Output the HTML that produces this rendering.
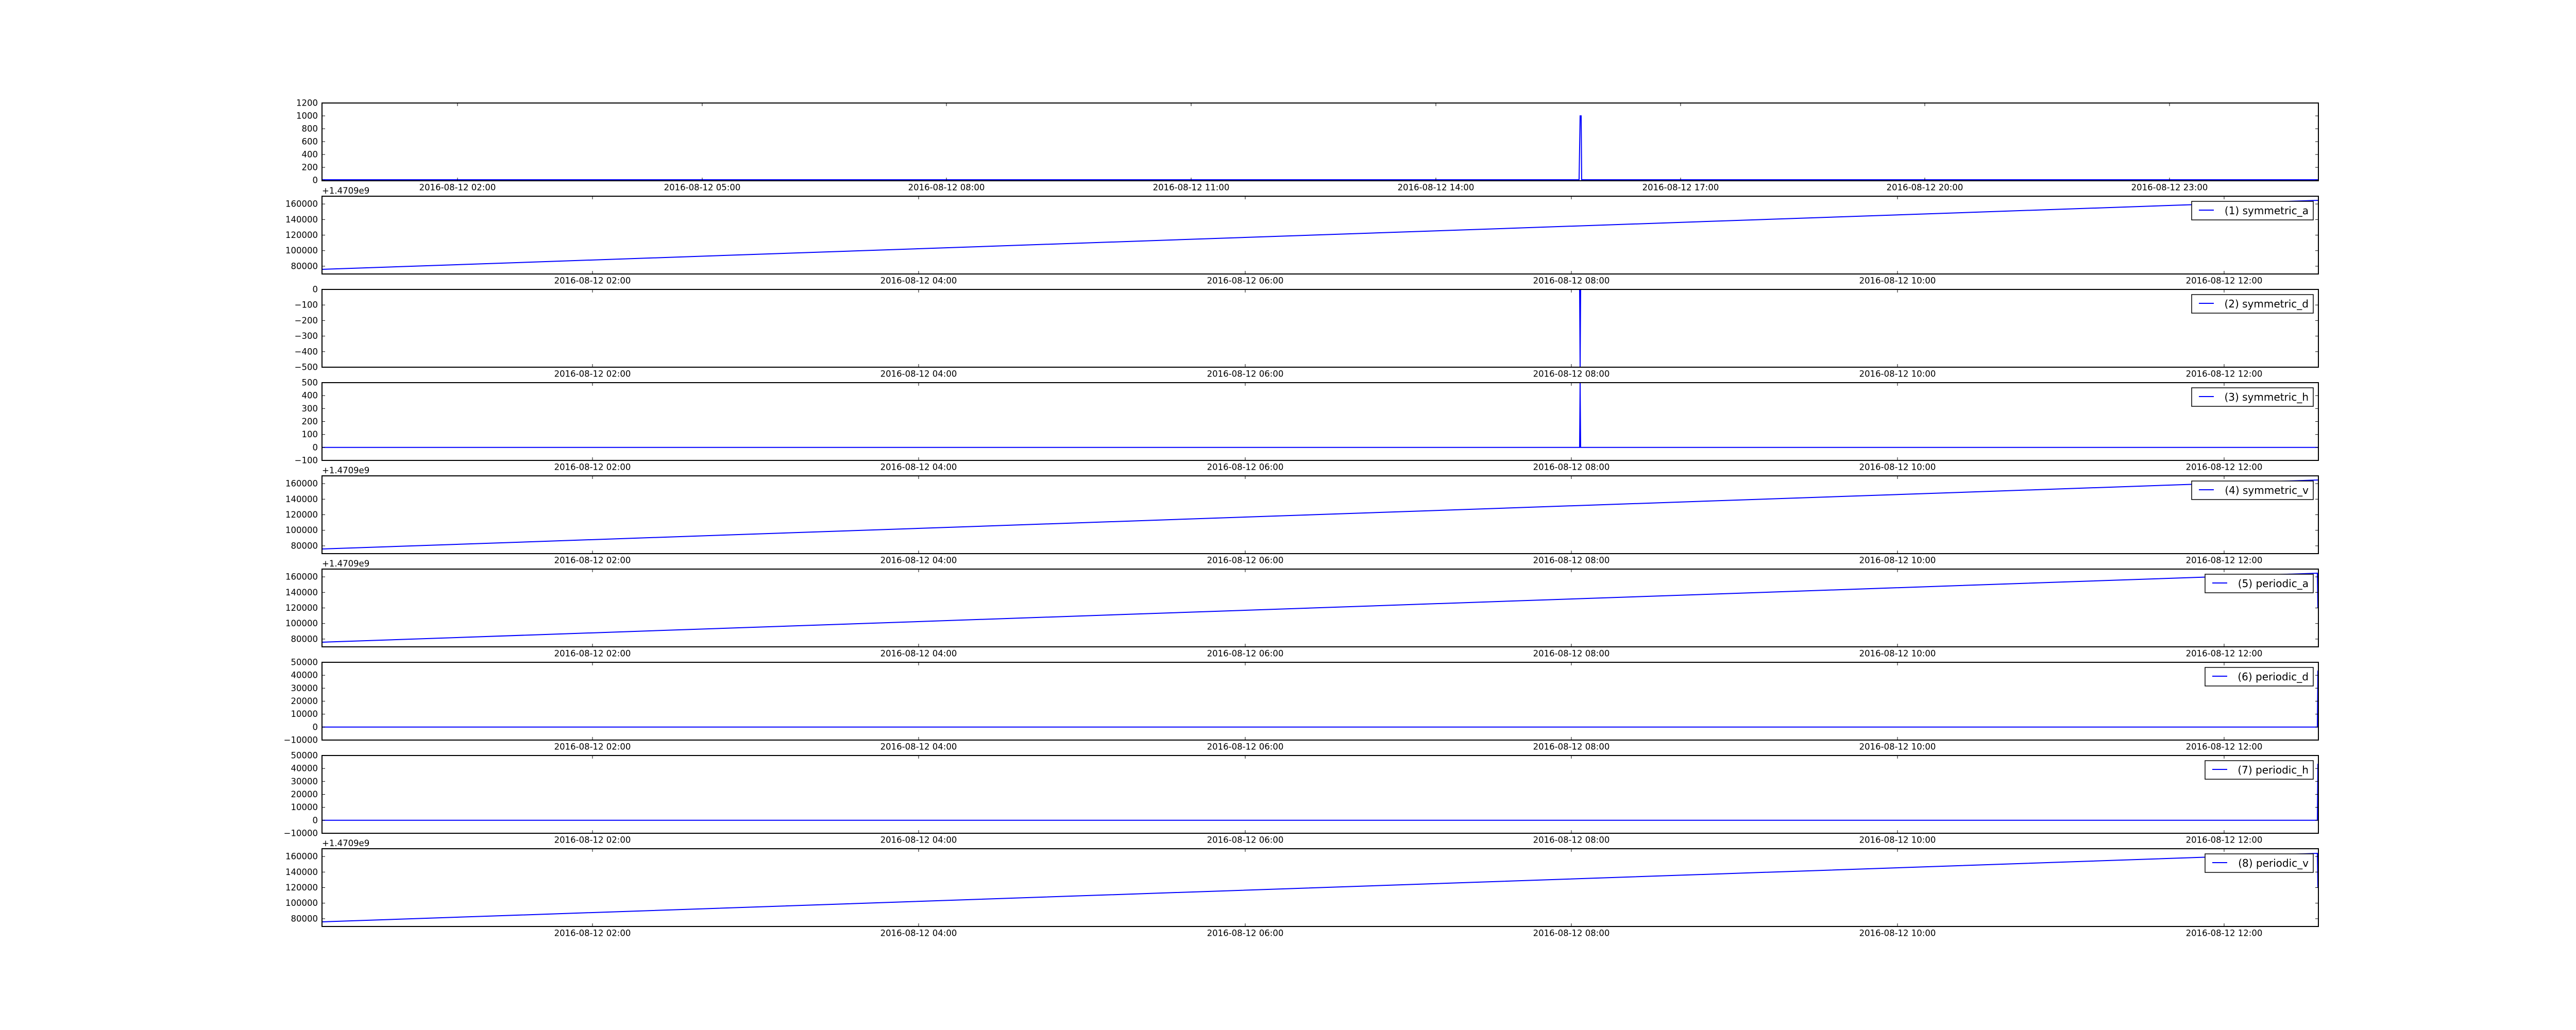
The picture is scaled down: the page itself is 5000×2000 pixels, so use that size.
<!DOCTYPE html>
<html><head><meta charset="utf-8"><style>
html,body{margin:0;padding:0;background:#fff;}
svg{display:block;}
text{font-family:"DejaVu Sans","Liberation Sans",sans-serif;fill:#000;}
.yl{font-size:16.5px;text-anchor:end;dominant-baseline:central;}
.xl{font-size:16.5px;text-anchor:middle;dominant-baseline:central;}
.lg{font-size:20px;text-anchor:end;dominant-baseline:central;}
.off{font-size:16.5px;}
.ax{fill:none;stroke:#000;stroke-width:2;}
.tk{stroke:#000;stroke-width:1;}
.ln{fill:none;stroke:#0000ff;stroke-width:2;}
.lb{fill:#fff;stroke:#000;stroke-width:1.5;}
</style></head><body>
<svg width="5000" height="2000" viewBox="0 0 5000 2000" xmlns="http://www.w3.org/2000/svg">
<rect width="5000" height="2000" fill="#fff"/>

<!-- Panel 1 -->
<g transform="translate(0,200)">
<polyline class="ln" points="625,149 3065,149 3067,25 3069,25 3070,149 4500,149"/>
<rect class="ax" x="625" y="0" width="3875" height="151"/>
<g class="tk">
<line x1="625" y1="150" x2="631" y2="150"/><line x1="625" y1="125" x2="631" y2="125"/><line x1="625" y1="100" x2="631" y2="100"/><line x1="625" y1="75" x2="631" y2="75"/><line x1="625" y1="50" x2="631" y2="50"/><line x1="625" y1="25" x2="631" y2="25"/>
<line x1="4494" y1="150" x2="4500" y2="150"/><line x1="4494" y1="125" x2="4500" y2="125"/><line x1="4494" y1="100" x2="4500" y2="100"/><line x1="4494" y1="75" x2="4500" y2="75"/><line x1="4494" y1="50" x2="4500" y2="50"/><line x1="4494" y1="25" x2="4500" y2="25"/>
<line x1="888" y1="0" x2="888" y2="6"/><line x1="1363" y1="0" x2="1363" y2="6"/><line x1="1837" y1="0" x2="1837" y2="6"/><line x1="2312" y1="0" x2="2312" y2="6"/><line x1="2787" y1="0" x2="2787" y2="6"/><line x1="3262" y1="0" x2="3262" y2="6"/><line x1="3736" y1="0" x2="3736" y2="6"/><line x1="4211" y1="0" x2="4211" y2="6"/>
<line x1="888" y1="151" x2="888" y2="145"/><line x1="1363" y1="151" x2="1363" y2="145"/><line x1="1837" y1="151" x2="1837" y2="145"/><line x1="2312" y1="151" x2="2312" y2="145"/><line x1="2787" y1="151" x2="2787" y2="145"/><line x1="3262" y1="151" x2="3262" y2="145"/><line x1="3736" y1="151" x2="3736" y2="145"/><line x1="4211" y1="151" x2="4211" y2="145"/>
</g>
<text class="yl" x="617" y="150">0</text><text class="yl" x="617" y="125">200</text><text class="yl" x="617" y="100">400</text><text class="yl" x="617" y="75">600</text><text class="yl" x="617" y="50">800</text><text class="yl" x="617" y="25">1000</text><text class="yl" x="617" y="0">1200</text>
<text class="xl" x="888" y="164">2016-08-12 02:00</text><text class="xl" x="1363" y="164">2016-08-12 05:00</text><text class="xl" x="1837" y="164">2016-08-12 08:00</text><text class="xl" x="2312" y="164">2016-08-12 11:00</text><text class="xl" x="2787" y="164">2016-08-12 14:00</text><text class="xl" x="3262" y="164">2016-08-12 17:00</text><text class="xl" x="3736" y="164">2016-08-12 20:00</text><text class="xl" x="4211" y="164">2016-08-12 23:00</text>
</g>

<defs>
<g id="xt">
<line class="tk" x1="1150" y1="0" x2="1150" y2="6"/><line class="tk" x1="1783" y1="0" x2="1783" y2="6"/><line class="tk" x1="2417" y1="0" x2="2417" y2="6"/><line class="tk" x1="3050" y1="0" x2="3050" y2="6"/><line class="tk" x1="3683" y1="0" x2="3683" y2="6"/><line class="tk" x1="4317" y1="0" x2="4317" y2="6"/>
<line class="tk" x1="1150" y1="151" x2="1150" y2="145"/><line class="tk" x1="1783" y1="151" x2="1783" y2="145"/><line class="tk" x1="2417" y1="151" x2="2417" y2="145"/><line class="tk" x1="3050" y1="151" x2="3050" y2="145"/><line class="tk" x1="3683" y1="151" x2="3683" y2="145"/><line class="tk" x1="4317" y1="151" x2="4317" y2="145"/>
</g>
<g id="yt5">
<line class="tk" x1="625" y1="15.1" x2="631" y2="15.1"/><line class="tk" x1="625" y1="45.3" x2="631" y2="45.3"/><line class="tk" x1="625" y1="75.5" x2="631" y2="75.5"/><line class="tk" x1="625" y1="105.7" x2="631" y2="105.7"/><line class="tk" x1="625" y1="135.9" x2="631" y2="135.9"/>
<line class="tk" x1="4494" y1="15.1" x2="4500" y2="15.1"/><line class="tk" x1="4494" y1="45.3" x2="4500" y2="45.3"/><line class="tk" x1="4494" y1="75.5" x2="4500" y2="75.5"/><line class="tk" x1="4494" y1="105.7" x2="4500" y2="105.7"/><line class="tk" x1="4494" y1="135.9" x2="4500" y2="135.9"/>
</g>
<g id="yt6">
<line class="tk" x1="625" y1="25.2" x2="631" y2="25.2"/><line class="tk" x1="625" y1="50.3" x2="631" y2="50.3"/><line class="tk" x1="625" y1="75.5" x2="631" y2="75.5"/><line class="tk" x1="625" y1="100.7" x2="631" y2="100.7"/><line class="tk" x1="625" y1="125.8" x2="631" y2="125.8"/>
<line class="tk" x1="4494" y1="25.2" x2="4500" y2="25.2"/><line class="tk" x1="4494" y1="50.3" x2="4500" y2="50.3"/><line class="tk" x1="4494" y1="75.5" x2="4500" y2="75.5"/><line class="tk" x1="4494" y1="100.7" x2="4500" y2="100.7"/><line class="tk" x1="4494" y1="125.8" x2="4500" y2="125.8"/>
</g>
<g id="yt3">
<line class="tk" x1="625" y1="30.2" x2="631" y2="30.2"/><line class="tk" x1="625" y1="60.4" x2="631" y2="60.4"/><line class="tk" x1="625" y1="90.6" x2="631" y2="90.6"/><line class="tk" x1="625" y1="120.8" x2="631" y2="120.8"/>
<line class="tk" x1="4494" y1="30.2" x2="4500" y2="30.2"/><line class="tk" x1="4494" y1="60.4" x2="4500" y2="60.4"/><line class="tk" x1="4494" y1="90.6" x2="4500" y2="90.6"/><line class="tk" x1="4494" y1="120.8" x2="4500" y2="120.8"/>
</g>
</defs>

<g transform="translate(0,381)">
<text class="off" x="625" y="-5">+1.4709e9</text>
<polyline class="ln" points="625,142 4500,8"/>
<use href="#yt5"/><use href="#xt"/>
<rect class="ax" x="625" y="0" width="3875" height="151"/>
<text class="yl" x="617" y="15.1">160000</text><text class="yl" x="617" y="45.3">140000</text><text class="yl" x="617" y="75.5">120000</text><text class="yl" x="617" y="105.7">100000</text><text class="yl" x="617" y="135.9">80000</text>
<rect class="lb" x="4254" y="10" width="236" height="36"/><line class="ln" x1="4268" y1="27" x2="4297" y2="27"/><text class="lg" x="4481" y="28">(1) symmetric_a</text>
<text class="xl" x="1150" y="164">2016-08-12 02:00</text><text class="xl" x="1783" y="164">2016-08-12 04:00</text><text class="xl" x="2417" y="164">2016-08-12 06:00</text><text class="xl" x="3050" y="164">2016-08-12 08:00</text><text class="xl" x="3683" y="164">2016-08-12 10:00</text><text class="xl" x="4317" y="164">2016-08-12 12:00</text>
</g>

<g transform="translate(0,562)">
<polyline class="ln" points="625,0 3066,0 3067,151 3068,0 4500,0"/>
<use href="#yt3"/><use href="#xt"/>
<rect class="ax" x="625" y="0" width="3875" height="151"/>
<text class="yl" x="617" y="0">0</text><text class="yl" x="617" y="30.2">−100</text><text class="yl" x="617" y="60.4">−200</text><text class="yl" x="617" y="90.6">−300</text><text class="yl" x="617" y="120.8">−400</text><text class="yl" x="617" y="151">−500</text>
<rect class="lb" x="4254" y="10" width="236" height="36"/><line class="ln" x1="4268" y1="27" x2="4297" y2="27"/><text class="lg" x="4481" y="28">(2) symmetric_d</text>
<text class="xl" x="1150" y="164">2016-08-12 02:00</text><text class="xl" x="1783" y="164">2016-08-12 04:00</text><text class="xl" x="2417" y="164">2016-08-12 06:00</text><text class="xl" x="3050" y="164">2016-08-12 08:00</text><text class="xl" x="3683" y="164">2016-08-12 10:00</text><text class="xl" x="4317" y="164">2016-08-12 12:00</text>
</g>

<g transform="translate(0,743)">
<polyline class="ln" points="625,125.8 3066,125.8 3067,0 3068,125.8 4500,125.8"/>
<use href="#yt6"/><use href="#xt"/>
<rect class="ax" x="625" y="0" width="3875" height="151"/>
<text class="yl" x="617" y="0">500</text><text class="yl" x="617" y="25.2">400</text><text class="yl" x="617" y="50.3">300</text><text class="yl" x="617" y="75.5">200</text><text class="yl" x="617" y="100.7">100</text><text class="yl" x="617" y="125.8">0</text><text class="yl" x="617" y="151">−100</text>
<rect class="lb" x="4254" y="10" width="236" height="36"/><line class="ln" x1="4268" y1="27" x2="4297" y2="27"/><text class="lg" x="4481" y="28">(3) symmetric_h</text>
<text class="xl" x="1150" y="164">2016-08-12 02:00</text><text class="xl" x="1783" y="164">2016-08-12 04:00</text><text class="xl" x="2417" y="164">2016-08-12 06:00</text><text class="xl" x="3050" y="164">2016-08-12 08:00</text><text class="xl" x="3683" y="164">2016-08-12 10:00</text><text class="xl" x="4317" y="164">2016-08-12 12:00</text>
</g>

<g transform="translate(0,924)">
<text class="off" x="625" y="-5">+1.4709e9</text>
<polyline class="ln" points="625,142 4500,8"/>
<use href="#yt5"/><use href="#xt"/>
<rect class="ax" x="625" y="0" width="3875" height="151"/>
<text class="yl" x="617" y="15.1">160000</text><text class="yl" x="617" y="45.3">140000</text><text class="yl" x="617" y="75.5">120000</text><text class="yl" x="617" y="105.7">100000</text><text class="yl" x="617" y="135.9">80000</text>
<rect class="lb" x="4254" y="10" width="236" height="36"/><line class="ln" x1="4268" y1="27" x2="4297" y2="27"/><text class="lg" x="4481" y="28">(4) symmetric_v</text>
<text class="xl" x="1150" y="164">2016-08-12 02:00</text><text class="xl" x="1783" y="164">2016-08-12 04:00</text><text class="xl" x="2417" y="164">2016-08-12 06:00</text><text class="xl" x="3050" y="164">2016-08-12 08:00</text><text class="xl" x="3683" y="164">2016-08-12 10:00</text><text class="xl" x="4317" y="164">2016-08-12 12:00</text>
</g>

<g transform="translate(0,1105)">
<text class="off" x="625" y="-5">+1.4709e9</text>
<polyline class="ln" points="625,142 4498,8 4499,75"/>
<use href="#yt5"/><use href="#xt"/>
<rect class="ax" x="625" y="0" width="3875" height="151"/>
<text class="yl" x="617" y="15.1">160000</text><text class="yl" x="617" y="45.3">140000</text><text class="yl" x="617" y="75.5">120000</text><text class="yl" x="617" y="105.7">100000</text><text class="yl" x="617" y="135.9">80000</text>
<rect class="lb" x="4280" y="10" width="210" height="36"/><line class="ln" x1="4294" y1="27" x2="4323" y2="27"/><text class="lg" x="4481" y="28">(5) periodic_a</text>
<text class="xl" x="1150" y="164">2016-08-12 02:00</text><text class="xl" x="1783" y="164">2016-08-12 04:00</text><text class="xl" x="2417" y="164">2016-08-12 06:00</text><text class="xl" x="3050" y="164">2016-08-12 08:00</text><text class="xl" x="3683" y="164">2016-08-12 10:00</text><text class="xl" x="4317" y="164">2016-08-12 12:00</text>
</g>

<g transform="translate(0,1286)">
<polyline class="ln" points="625,125.8 4498,125.8 4499,16"/>
<use href="#yt6"/><use href="#xt"/>
<rect class="ax" x="625" y="0" width="3875" height="151"/>
<text class="yl" x="617" y="0">50000</text><text class="yl" x="617" y="25.2">40000</text><text class="yl" x="617" y="50.3">30000</text><text class="yl" x="617" y="75.5">20000</text><text class="yl" x="617" y="100.7">10000</text><text class="yl" x="617" y="125.8">0</text><text class="yl" x="617" y="151">−10000</text>
<rect class="lb" x="4280" y="10" width="210" height="36"/><line class="ln" x1="4294" y1="27" x2="4323" y2="27"/><text class="lg" x="4481" y="28">(6) periodic_d</text>
<text class="xl" x="1150" y="164">2016-08-12 02:00</text><text class="xl" x="1783" y="164">2016-08-12 04:00</text><text class="xl" x="2417" y="164">2016-08-12 06:00</text><text class="xl" x="3050" y="164">2016-08-12 08:00</text><text class="xl" x="3683" y="164">2016-08-12 10:00</text><text class="xl" x="4317" y="164">2016-08-12 12:00</text>
</g>

<g transform="translate(0,1467)">
<polyline class="ln" points="625,125.8 4498,125.8 4499,16"/>
<use href="#yt6"/><use href="#xt"/>
<rect class="ax" x="625" y="0" width="3875" height="151"/>
<text class="yl" x="617" y="0">50000</text><text class="yl" x="617" y="25.2">40000</text><text class="yl" x="617" y="50.3">30000</text><text class="yl" x="617" y="75.5">20000</text><text class="yl" x="617" y="100.7">10000</text><text class="yl" x="617" y="125.8">0</text><text class="yl" x="617" y="151">−10000</text>
<rect class="lb" x="4280" y="10" width="210" height="36"/><line class="ln" x1="4294" y1="27" x2="4323" y2="27"/><text class="lg" x="4481" y="28">(7) periodic_h</text>
<text class="xl" x="1150" y="164">2016-08-12 02:00</text><text class="xl" x="1783" y="164">2016-08-12 04:00</text><text class="xl" x="2417" y="164">2016-08-12 06:00</text><text class="xl" x="3050" y="164">2016-08-12 08:00</text><text class="xl" x="3683" y="164">2016-08-12 10:00</text><text class="xl" x="4317" y="164">2016-08-12 12:00</text>
</g>

<g transform="translate(0,1648)">
<text class="off" x="625" y="-5">+1.4709e9</text>
<polyline class="ln" points="625,142 4498,9 4499,75"/>
<use href="#yt5"/><use href="#xt"/>
<rect class="ax" x="625" y="0" width="3875" height="151"/>
<text class="yl" x="617" y="15.1">160000</text><text class="yl" x="617" y="45.3">140000</text><text class="yl" x="617" y="75.5">120000</text><text class="yl" x="617" y="105.7">100000</text><text class="yl" x="617" y="135.9">80000</text>
<rect class="lb" x="4280" y="10" width="210" height="36"/><line class="ln" x1="4294" y1="27" x2="4323" y2="27"/><text class="lg" x="4481" y="28">(8) periodic_v</text>
<text class="xl" x="1150" y="164">2016-08-12 02:00</text><text class="xl" x="1783" y="164">2016-08-12 04:00</text><text class="xl" x="2417" y="164">2016-08-12 06:00</text><text class="xl" x="3050" y="164">2016-08-12 08:00</text><text class="xl" x="3683" y="164">2016-08-12 10:00</text><text class="xl" x="4317" y="164">2016-08-12 12:00</text>
</g>
</svg>
</body></html>
